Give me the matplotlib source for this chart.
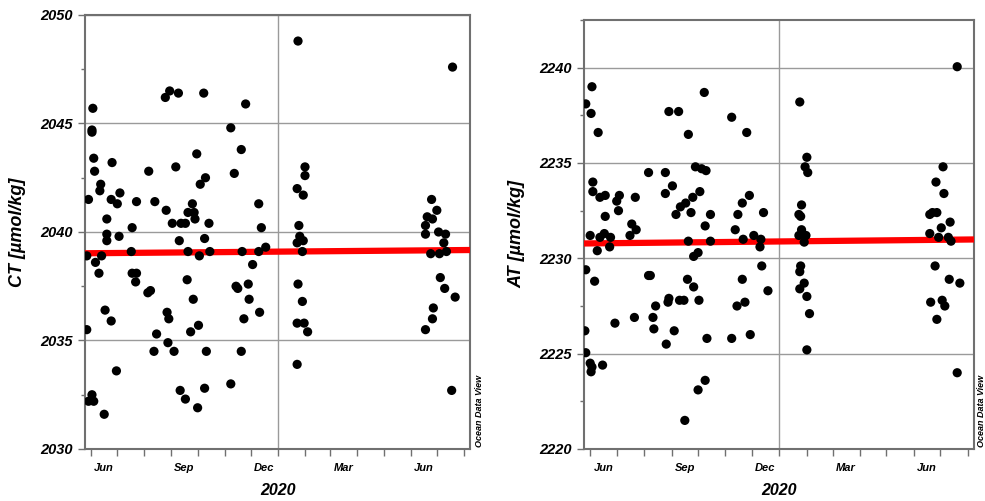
import numpy as np
import matplotlib
matplotlib.use("Agg")
import matplotlib.pyplot as plt
import matplotlib.dates as mdates
from matplotlib.ticker import MultipleLocator, NullFormatter

plt.rcParams['font.family'] = ['Liberation Sans', 'DejaVu Sans']
plt.rcParams['font.weight'] = 'bold'
plt.rcParams['font.style'] = 'italic'

# dias desde 2019-06-01
start = np.datetime64('2019-06-01')

ct_days = [2, 1, 1, 3, 4, 11, 10, -3, 24, 23, 30, 33, 18, 18, 18, 32, 47, 52, 66, 73,
           85, 90, 100, 129, 177, 160, 172, 164, 121, 97, 131, 125, 86, 116, 111, 118,
           119, 93, 103, 108, 135, 101, 130, 192, 195, -5, 5, 12, 9, 46, 47, 52, 51,
           65, 68, 111, 124, 136, 110, 117, 87, 89, 123, 114, 75, 88, 72, 95, 132, 16,
           23, -5, 29, 1, -3, 3, 15, 102, 108, 130, 122, 160, 185, 166, 168, 180, 181,
           175, 193, 172, 173, 192, 200,
           237, 245, 245, 236, 243, 238, 239, 236, 243, 242, 237, 242, 236, 244, 248, 236,
           414, 390, 385, 391, 396, 383, 383, 398, 406, 404, 389, 399, 407, 400, 405, 417,
           392, 391, 383, 413]
ct_vals = [2045.7, 2044.7, 2044.6, 2043.4, 2042.8, 2042.2, 2041.9, 2041.5, 2043.2, 2041.5,
           2041.3, 2041.8, 2040.6, 2039.9, 2039.6, 2039.8, 2040.2, 2041.4, 2042.8, 2041.4,
           2046.2, 2046.5, 2046.4, 2046.4, 2045.9, 2044.8, 2043.8, 2042.7, 2043.6, 2043.0,
           2042.5, 2042.2, 2041.0, 2041.3, 2040.9, 2040.9, 2040.6, 2040.4, 2040.4, 2040.4,
           2040.4, 2039.6, 2039.7, 2041.3, 2040.2, 2038.9, 2038.6, 2038.9, 2038.1, 2039.1,
           2038.1, 2038.1, 2037.7, 2037.2, 2037.3, 2039.1, 2038.9, 2039.1, 2037.8, 2036.9,
           2036.3, 2036.0, 2035.7, 2035.4, 2035.3, 2034.9, 2034.5, 2034.5, 2034.5, 2036.4,
           2035.9, 2035.5, 2033.6, 2032.5, 2032.2, 2032.2, 2031.6, 2032.7, 2032.3, 2032.8,
           2031.9, 2033.0, 2038.5, 2037.5, 2037.4, 2037.6, 2036.9, 2036.0, 2036.3, 2034.5,
           2039.1, 2039.1, 2039.3,
           2048.8, 2043.0, 2042.6, 2042.0, 2041.7, 2040.3, 2039.8, 2039.5, 2039.6, 2039.1,
           2037.6, 2036.8, 2035.8, 2035.8, 2035.4, 2033.9,
           2047.6, 2041.5, 2040.7, 2040.6, 2041.0, 2040.3, 2039.9, 2040.0, 2039.9, 2039.5,
           2039.0, 2039.0, 2039.1, 2037.9, 2037.4, 2037.0, 2036.5, 2036.0, 2035.5, 2032.7]

at_days = [2, -5, 1, 9, 89, 100, 111, 129, 160, 177, 119, 126, 131, 66, 85, 3, 3, 11, 17,
           30, 33, 32, 17, 51, 93, 85, 116, 124, 102, 108, 97, 114, 136, 130, 47, 52, 45,
           0, 11, 16, 23, 22, 8, 111, 136, 117, 122, 172, 180, 167, 164, 173, 185, 193,
           192, 196, -5, 5, 66, 68, 110, 117, 172, 194, 201, 123, 101, 106, 88, 89, 74,
           50, 71, 72, 95, 86, 28, -6, 132, 160, 181, 166, 175, -5, 0, 2, 1, 14, 130,
           122, 107,
           237, 245, 243, 246, 239, 236, 238, 239, 236, 244, 242, 238, 237, 242, 237, 245,
           248, 245,
           415, 399, 391, 400, 384, 387, 392, 407, 397, 384, 394, 405, 408, 390, 406, 418,
           385, 398, 401, 392, 415]
at_vals = [2239.0, 2238.1, 2237.6, 2236.6, 2237.7, 2237.7, 2236.5, 2238.7, 2237.4, 2236.6,
           2234.8, 2234.7, 2234.6, 2234.5, 2234.5, 2234.0, 2233.5, 2233.2, 2233.3, 2233.0,
           2233.3, 2232.5, 2232.2, 2233.2, 2233.8, 2233.4, 2233.2, 2233.5, 2232.7, 2232.9,
           2232.3, 2232.4, 2232.3, 2231.7, 2231.8, 2231.5, 2231.2, 2231.2, 2231.1, 2231.3,
           2231.1, 2230.6, 2230.4, 2230.9, 2230.9, 2230.1, 2230.3, 2232.9, 2233.3, 2232.3,
           2231.5, 2231.0, 2231.2, 2231.0, 2230.6, 2232.4, 2229.4, 2228.8, 2229.1, 2229.1,
           2228.9, 2228.5, 2228.9, 2229.6, 2228.3, 2227.8, 2227.8, 2227.8, 2227.7, 2227.9,
           2227.5, 2226.9, 2226.9, 2226.3, 2226.2, 2225.5, 2226.6, 2226.2, 2225.8, 2225.8,
           2226.0, 2227.5, 2227.7, 2225.05, 2224.5, 2224.3, 2224.05, 2224.4, 2223.6, 2223.1,
           2221.5,
           2238.2, 2235.3, 2234.8, 2234.5, 2232.8, 2232.3, 2232.2, 2231.5, 2231.2, 2231.2,
           2230.85, 2229.6, 2229.3, 2228.7, 2228.4, 2228.0, 2227.1, 2225.2,
           2240.05, 2234.8, 2234.0, 2233.4, 2232.3, 2232.4, 2232.4, 2231.9, 2231.6, 2231.3,
           2231.1, 2231.1, 2230.9, 2229.6, 2228.9, 2228.7, 2227.7, 2227.8, 2227.5, 2226.8,
           2224.0]

# linha de tendencia (valores nas bordas)
ct_trend = [2039.02, 2039.17]
at_trend = [2230.78, 2230.99]

xlim = [np.datetime64('2019-05-25'), np.datetime64('2020-08-08')]
ano = np.datetime64('2020-01-01')

fig = plt.figure(figsize=(9.85, 5.01), dpi=100)
ax1 = fig.add_axes([85/985, 1-449/501, 385/985, 434/501])
ax2 = fig.add_axes([584/985, 1-449/501, 390/985, 429/501])

paineis = [(ax1, ct_days, ct_vals, ct_trend, (2030, 2050), 'CT [µmol/kg]', 18, 0.537),
           (ax2, at_days, at_vals, at_trend, (2220, 2242.5), 'AT [µmol/kg]', 517, 0.532)]

for ax, dias, vals, trend, ylim, ylab, xlab, ylabpos in paineis:
    t = start + np.array(dias).astype('timedelta64[D]')
    ax.plot(xlim, trend, color='red', lw=4.5, zorder=3, solid_capstyle='butt')
    ax.scatter(t, vals, s=44, color='black', edgecolors='none', zorder=4)
    ax.set_xlim(xlim)
    ax.set_ylim(ylim)

    ax.yaxis.set_major_locator(MultipleLocator(5))
    ax.yaxis.set_minor_locator(MultipleLocator(2.5))
    ax.grid(axis='y', which='major', color='#9a9a9a', lw=1)
    ax.axvline(ano, color='#9a9a9a', lw=1)

    ax.xaxis.set_major_locator(mdates.MonthLocator())
    ax.xaxis.set_major_formatter(NullFormatter())
    ax.xaxis.set_minor_locator(mdates.MonthLocator(bymonth=[3, 6, 9, 12], bymonthday=16))
    ax.xaxis.set_minor_formatter(mdates.DateFormatter('%b'))
    ax.tick_params(axis='x', which='major', length=5, color='#707070', width=1)
    ax.tick_params(axis='x', which='minor', length=0, labelsize=8, pad=10)
    ax.tick_params(axis='y', which='major', length=5, color='#707070', width=1,
                   labelsize=10.5, pad=4)
    ax.tick_params(axis='y', which='minor', length=3, color='#707070', width=1)
    for s in ax.spines.values():
        s.set_color('#707070')
        s.set_linewidth(1.5)

    ax.text(ano, -0.096, '2020', transform=ax.get_xaxis_transform(),
            ha='center', va='center', fontsize=11.5)
    fig.text(xlab/985, ylabpos, ylab, rotation=90, ha='center', va='center', fontsize=13)

fig.text(480/985, 1-447/501, 'Ocean Data View', rotation=90, ha='center', va='bottom', fontsize=6.5)
fig.text(982/985, 1-447/501, 'Ocean Data View', rotation=90, ha='center', va='bottom', fontsize=6.5)

fig.savefig('out.png', dpi=100)
